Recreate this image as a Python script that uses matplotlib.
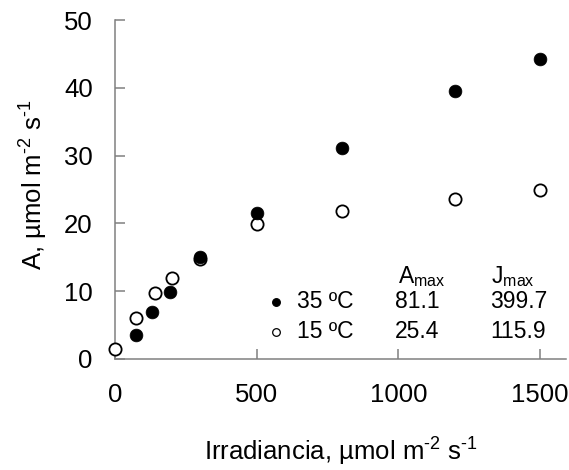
import matplotlib
matplotlib.use("Agg")
import matplotlib.pyplot as plt

plt.rcParams['font.family'] = ['Liberation Sans', 'DejaVu Sans']
plt.rcParams['mathtext.fontset'] = 'custom'
plt.rcParams['mathtext.rm'] = 'Liberation Sans'
plt.rcParams['mathtext.it'] = 'Liberation Sans:italic'
plt.rcParams['mathtext.bf'] = 'Liberation Sans:bold'

# Data
irr_35 = [75, 130, 195, 300, 500, 800, 1200, 1500]
a_35 = [3.5, 6.9, 9.9, 15.0, 21.5, 31.1, 39.6, 44.3]
irr_15 = [0, 75, 140, 200, 300, 500, 800, 1200, 1500]
a_15 = [1.5, 6.1, 9.7, 12.0, 14.8, 19.9, 21.9, 23.6, 25.0]

series_labels = ['35 ºC', '15 ºC']
amax_vals = ['81.1', '25.4']
jmax_vals = ['399.7', '115.9']
col_headers = [r'A$_{\mathrm{max}}$', r'J$_{\mathrm{max}}$']

x_ticks = [0, 500, 1000, 1500]
y_ticks = [0, 10, 20, 30, 40, 50]

fig = plt.figure(figsize=(5.69, 4.70), dpi=100)
ax = fig.add_axes([115/569, (470-359)/470, 451/569, 339/470])

ax.plot(irr_15, a_15, 'o', ms=8.8, mfc='white', mec='black', mew=1.3,
        clip_on=False, zorder=3)
ax.plot(irr_35, a_35, 'o', ms=9.2, mfc='black', mec='black', mew=0.5,
        clip_on=False, zorder=4)

ax.set_xlim(0, 1592)
ax.set_ylim(0, 50)
ax.set_xticks(x_ticks)
ax.set_yticks(y_ticks)

for s in ['top', 'right']:
    ax.spines[s].set_visible(False)
for s in ['left', 'bottom']:
    ax.spines[s].set_color('#808080')
    ax.spines[s].set_linewidth(1.1)

ax.tick_params(axis='both', direction='in', length=7, width=1.1,
               color='#808080', labelsize=18.5, labelcolor='black')
ax.tick_params(axis='x', pad=17)
ax.tick_params(axis='y', pad=16)

ax.set_xlabel(r'Irradiancia, µmol m$^{\text{-2}}$ s$^{\text{-1}}$', fontsize=18.5)
ax.xaxis.set_label_coords(0.5, -(461-359)/339, transform=ax.transAxes)
ax.xaxis.label.set_va('baseline')
ax.set_ylabel(r'A, µmol m$^{\text{-2}}$ s$^{\text{-1}}$', fontsize=18.5)
ax.yaxis.set_label_coords((50-115)/451, 0.513)

# legend / table
tr = ax.transAxes
row_base = [0.1496, 0.0611]
row_mark = [0.169, 0.0805]
mfcs = ['black', 'white']
fs = 16.5
for i in range(2):
    ax.plot([0.356], [row_mark[i]], 'o', ms=5.5, mfc=mfcs[i], mec='black',
            mew=0.9, transform=tr, clip_on=False)
    ax.text(0.403, row_base[i], series_labels[i], transform=tr,
            fontsize=fs, va='baseline', ha='left')
    ax.text(0.6208, row_base[i], amax_vals[i], transform=tr,
            fontsize=fs, va='baseline', ha='left')
    ax.text(0.8315, row_base[i], jmax_vals[i], transform=tr,
            fontsize=fs, va='baseline', ha='left')
ax.text(0.628, 0.2242, col_headers[0], transform=tr, fontsize=fs,
        va='baseline', ha='left')
ax.text(0.833, 0.2242, col_headers[1], transform=tr, fontsize=fs,
        va='baseline', ha='left')

fig.savefig('out.png', dpi=100)
